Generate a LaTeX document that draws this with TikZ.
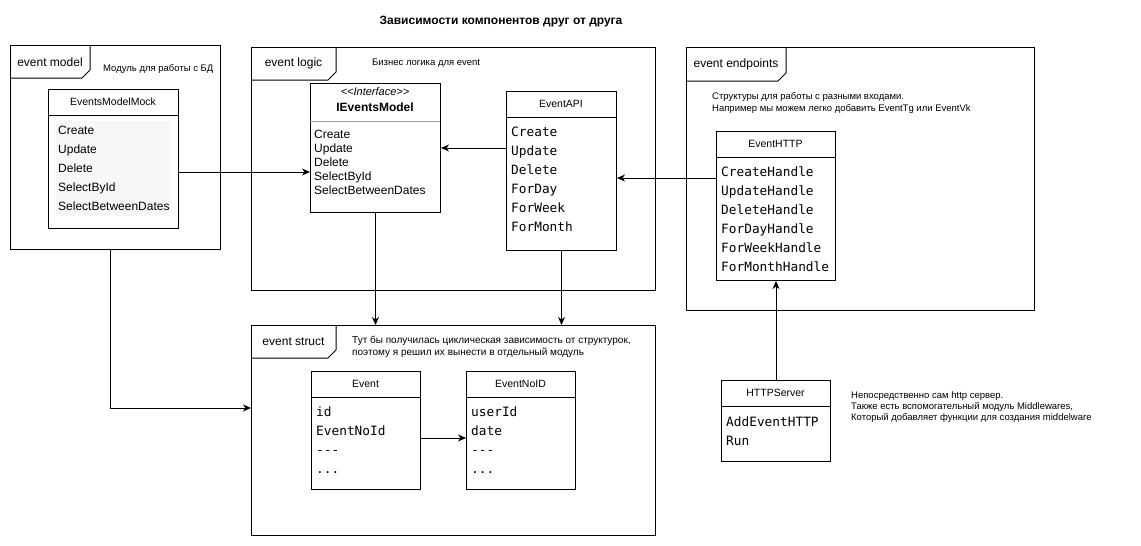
\documentclass[tikz,border=0pt]{standalone}
\usepackage{fontspec}
\setmainfont{Liberation Sans}
\newfontfamily\codefont{DejaVu Sans Mono}
\usetikzlibrary{arrows.meta}

\tikzset{
  frame/.style={draw=black, line width=1pt, inner sep=0pt, anchor=north west},
  tabline/.style={draw=black, line width=1pt},
  tablabel/.style={font=\fontsize{12}{14}\selectfont, inner sep=0pt},
  note/.style={font=\fontsize{9.5}{11}\selectfont, inner sep=0pt, anchor=base west},
  classbox/.style={draw=black, line width=1pt, fill=white, inner sep=0pt, anchor=north west},
  classhead/.style={font=\fontsize{10.5}{12}\selectfont, inner sep=0pt},
  sansitem/.style={font=\fontsize{12}{14}\selectfont, inner sep=0pt, anchor=base west},
  codeitem/.style={font=\codefont\fontsize{12.8}{15}\selectfont, inner sep=0pt, anchor=base west},
  conn/.style={draw=black, line width=1pt, -{Stealth[length=8pt,width=7pt,inset=2.5pt]}},
}

\begin{document}
\begin{tikzpicture}[x=1pt,y=-1pt]
\useasboundingbox (0,0) rectangle (1141,546);
\fill[white] (0,0) rectangle (1141,546);

% title
\node[font=\bfseries\fontsize{12}{14}\selectfont, inner sep=0pt] (title) at (501,22)
  {Зависимости компонентов друг от друга};

% ---------- module frames ----------
\node[frame, minimum width=210, minimum height=204] (fmodel) at (10,45) {};
\draw[tabline] (fmodel.north west) ++(80,0) -- ++(0,25) -- ++(-8,8) -- ++(-72,0);
\node[tablabel] (lmodel) at (50,62) {event model};
\node[note] (nmodel) at (103,71.5) {Модуль для работы с БД};

\node[frame, minimum width=404, minimum height=243] (flogic) at (251,47) {};
\draw[tabline] (flogic.north west) ++(85,0) -- ++(0,25) -- ++(-8,8) -- ++(-77,0);
\node[tablabel] (llogic) at (293.5,63) {event logic};
\node[note] (nlogic) at (372,65.5) {Бизнес логика для event};

\node[frame, minimum width=348, minimum height=263] (fend) at (686,47) {};
\draw[tabline] (fend.north west) ++(100,0) -- ++(0,26) -- ++(-8,8) -- ++(-92,0);
\node[tablabel] (lend) at (736,64) {event endpoints};
\node[note] (nend1) at (712,99.5) {Структуры для работы с разными входами.};
\node[note] (nend2) at (712,111.5) {Например мы можем легко добавить EventTg или EventVk};

\node[frame, minimum width=404, minimum height=210] (fstruct) at (251,325) {};
\draw[tabline] (fstruct.north west) ++(85,0) -- ++(0,25) -- ++(-8,8) -- ++(-77,0);
\node[tablabel] (lstruct) at (293.5,342) {event struct};
\node[note, font=\fontsize{10}{12}\selectfont] (nstruct1) at (352,343.7) {Тут бы получилась циклическая зависимость от структурок,};
\node[note, font=\fontsize{10}{12}\selectfont] (nstruct2) at (352,355.7) {поэтому я решил их вынести в отдельный модуль};

% ---------- classes ----------
% EventsModelMock
\node[classbox, minimum width=130, minimum height=139] (mock) at (48,89) {};
\draw[line width=1pt] (mock.north west) ++(0,26) -- ++(130,0);
\node[classhead] (hmock) at (113,102) {EventsModelMock};
\fill[black!3] (56,121) rectangle (170,216);
\foreach \t [count=\i] in {Create,Update,Delete,SelectById,SelectBetweenDates}
  \node[sansitem] (mock-\i) at (58,{134.3+19*(\i-1)}) {\t};

% IEventsModel
\node[classbox, minimum width=130, minimum height=129] (iface) at (310,83) {};
\draw[black!40, line width=1pt] (iface.north west) ++(0,38) -- ++(130,0);
\node[font=\itshape\fontsize{11}{13}\selectfont, inner sep=0pt] (stereo) at (375,92) {<{}<Interface>{}>};
\node[font=\bfseries\fontsize{12}{14}\selectfont, inner sep=0pt] (hiface) at (375,107) {IEventsModel};
\foreach \t [count=\i] in {Create,Update,Delete,SelectById,SelectBetweenDates}
  \node[sansitem] (iface-\i) at (314,{138.3+14*(\i-1)}) {\t};

% EventAPI
\node[classbox, minimum width=110, minimum height=159] (api) at (506,91) {};
\draw[line width=1pt] (api.north west) ++(0,26) -- ++(110,0);
\node[classhead] (hapi) at (561,104) {EventAPI};
\foreach \t [count=\i] in {Create,Update,Delete,ForDay,ForWeek,ForMonth}
  \node[codeitem] (api-\i) at (511,{136.7+19*(\i-1)}) {\t};

% EventHTTP
\node[classbox, minimum width=119, minimum height=149] (http) at (716,131) {};
\draw[line width=1pt] (http.north west) ++(0,26) -- ++(119,0);
\node[classhead] (hhttp) at (775.5,144) {EventHTTP};
\foreach \t [count=\i] in {CreateHandle,UpdateHandle,DeleteHandle,ForDayHandle,ForWeekHandle,ForMonthHandle}
  \node[codeitem] (http-\i) at (721,{176.7+19*(\i-1)}) {\t};

% Event
\node[classbox, minimum width=109, minimum height=118] (event) at (311,371) {};
\draw[line width=1pt] (event.north west) ++(0,26) -- ++(109,0);
\node[classhead] (hevent) at (365.5,384) {Event};
\node[codeitem] (event-1) at (316,416.7) {id};
\node[codeitem] (event-2) at (316,435.7) {EventNoId};
\node[codeitem] (event-3) at (316,454.7) {-{}-{}-};
\node[codeitem] (event-4) at (316,473.7) {.{}.{}.};

% EventNoID
\node[classbox, minimum width=109, minimum height=118] (noid) at (466,371) {};
\draw[line width=1pt] (noid.north west) ++(0,26) -- ++(109,0);
\node[classhead] (hnoid) at (520.5,384) {EventNoID};
\node[codeitem] (noid-1) at (471,416.7) {userId};
\node[codeitem] (noid-2) at (471,435.7) {date};
\node[codeitem] (noid-3) at (471,454.7) {-{}-{}-};
\node[codeitem] (noid-4) at (471,473.7) {.{}.{}.};

% HTTPServer
\node[classbox, minimum width=109, minimum height=81] (server) at (721,380) {};
\draw[line width=1pt] (server.north west) ++(0,26) -- ++(109,0);
\node[classhead] (hserver) at (775.5,393) {HTTPServer};
\node[codeitem] (server-1) at (726,426.7) {AddEventHTTP};
\node[codeitem] (server-2) at (726,445.7) {Run};

\node[note] (nserver1) at (851,398.5) {Непосредственно сам http сервер.};
\node[note] (nserver2) at (851,409.5) {Также есть вспомогательный модуль Middlewares,};
\node[note] (nserver3) at (851,420.5) {Который добавляет функции для создания middelware};

% ---------- dependencies ----------
\coordinate (r1) at (0,172);
\coordinate (r2) at (0,148);
\coordinate (r3) at (0,178);
\coordinate (r7) at (0,438);
\coordinate (bend) at (110,408);

\draw[conn] (mock.east |- r1) -- (iface.west |- r1);
\draw[conn] (api.west |- r2) -- (iface.east |- r2);
\draw[conn] (http.west |- r3) -- (api.east |- r3);
\draw[conn] (iface.south) -- (iface.south |- fstruct.north);
\draw[conn] (api.south) -- (api.south |- fstruct.north);
\draw[conn] (fmodel.south -| bend) -- (bend) -- (fstruct.west |- bend);
\draw[conn] (event.east |- r7) -- (noid.west |- r7);
\draw[conn] (server.north) -- (http.south);
\end{tikzpicture}
\end{document}
